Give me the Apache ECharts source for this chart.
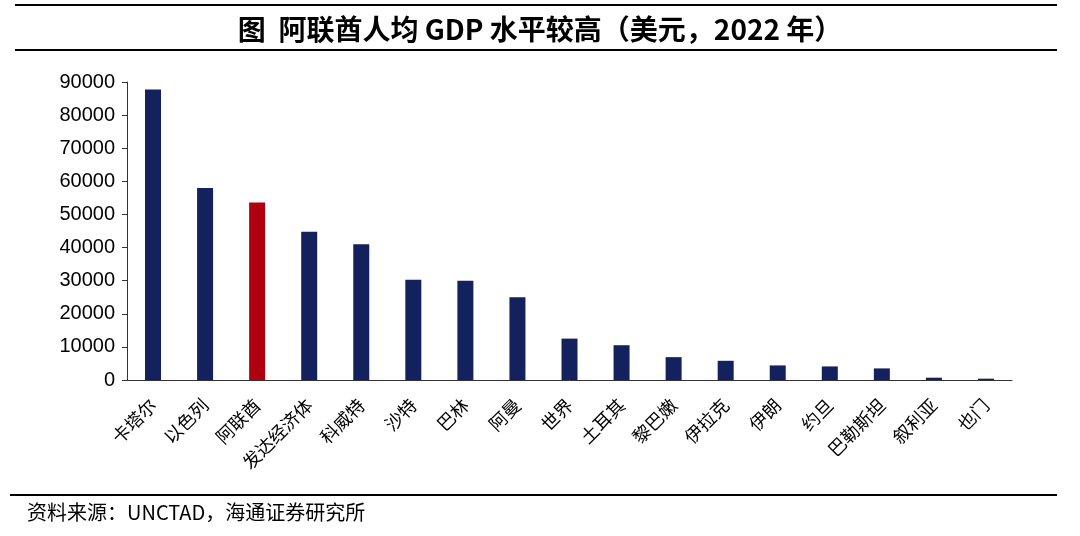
<!DOCTYPE html>
<html>
<head>
<meta charset="utf-8">
<script src="https://cdn.jsdelivr.net/npm/echarts@6/dist/echarts.min.js"></script>
<style>
  html, body { margin: 0; padding: 0; background: #fff; }
  #main { width: 1080px; height: 536px; }
</style>
</head>
<body>
<div id="main"></div>
<script>
// 人均GDP（美元，2022年）
const countries = ['卡塔尔', '以色列', '阿联酋', '发达经济体', '科威特', '沙特', '巴林', '阿曼', '世界',
  '土耳其', '黎巴嫩', '伊拉克', '伊朗', '约旦', '巴勒斯坦', '叙利亚', '也门'];
const gdpPerCapita = [87700, 58000, 53600, 44800, 41000, 30300, 30000, 25000, 12500,
  10500, 6900, 5800, 4400, 4100, 3500, 700, 400];
const highlight = '阿联酋';
const yTicks = [0, 10000, 20000, 30000, 40000, 50000, 60000, 70000, 80000, 90000];

const chart = echarts.init(document.getElementById('main'));

const option = {
  animation: false,
  title: {
    text: '图  阿联酋人均 GDP 水平较高（美元，2022 年）',
    left: 'center',
    top: 10,
    textStyle: {
      fontFamily: '"Noto Sans CJK SC", sans-serif',
      fontSize: 28,
      fontWeight: 'bold',
      color: '#000'
    }
  },
  graphic: [
    { type: 'line', shape: { x1: 15, y1: 5, x2: 1057, y2: 5 }, style: { stroke: '#000', lineWidth: 2 } },
    { type: 'line', shape: { x1: 15, y1: 50, x2: 1057, y2: 50 }, style: { stroke: '#000', lineWidth: 2 } },
    { type: 'line', shape: { x1: 10, y1: 495, x2: 1057, y2: 495 }, style: { stroke: '#000', lineWidth: 2 } },
    {
      type: 'text', left: 27, top: 502,
      style: {
        text: '资料来源：UNCTAD，海通证券研究所',
        font: '20px "Noto Sans CJK SC", sans-serif',
        fill: '#000'
      }
    }
  ],
  grid: { left: 127, right: 68, top: 82, bottom: 156 },
  xAxis: {
    type: 'category',
    data: countries,
    axisLine: { lineStyle: { color: '#333', width: 1 } },
    axisTick: { show: false },
    axisLabel: {
      interval: 0,
      rotate: 45,
      margin: 22,
      color: '#000',
      fontSize: 18,
      fontFamily: '"Noto Sans CJK SC", serif'
    }
  },
  yAxis: {
    type: 'value',
    min: 0,
    max: 90000,
    interval: 10000,
    splitLine: { show: false },
    axisLine: { show: true, lineStyle: { color: '#333', width: 1 } },
    axisTick: { show: true, length: 5, lineStyle: { color: '#333' } },
    axisLabel: {
      color: '#000',
      fontSize: 20,
      margin: 12,
      fontFamily: '"Liberation Sans", Arial, sans-serif',
      formatter: v => (yTicks.indexOf(v) >= 0 ? String(v) : '')
    }
  },
  series: [{
    type: 'bar',
    barWidth: 16,
    data: gdpPerCapita.map((v, i) => ({
      value: v,
      itemStyle: { color: countries[i] === highlight ? '#B0000F' : '#14215F' }
    }))
  }]
};

chart.setOption(option);
</script>
</body>
</html>
